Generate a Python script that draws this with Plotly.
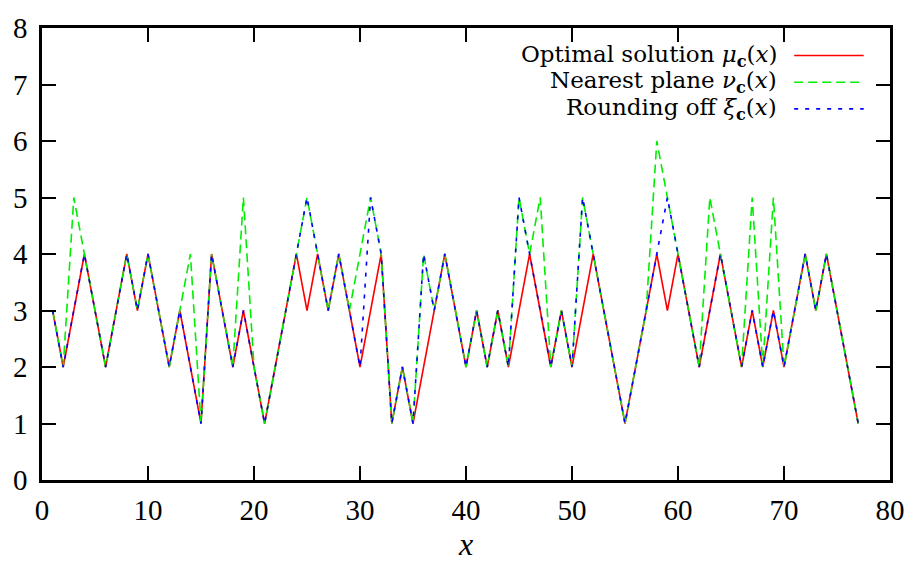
import plotly.graph_objects as go

x_vals = list(range(1, 78))

optimal = [3, 2, 3, 4, 3, 2, 3, 4, 3, 4, 3, 2, 3, 2, 1, 4, 3, 2, 3, 2,
           1, 2, 3, 4, 3, 4, 3, 4, 3, 2, 3, 4, 1, 2, 1, 2, 3, 4, 3, 2,
           3, 2, 3, 2, 3, 4, 3, 2, 3, 2, 3, 4, 3, 2, 1, 2, 3, 4, 3, 4,
           3, 2, 3, 4, 3, 2, 3, 2, 3, 2, 3, 4, 3, 4, 3, 2, 1]

nearest = [3, 2, 5, 4, 3, 2, 3, 4, 3, 4, 3, 2, 3, 4, 1, 4, 3, 2, 5, 2,
           1, 2, 3, 4, 5, 4, 3, 4, 3, 4, 5, 4, 1, 2, 1, 4, 3, 4, 3, 2,
           3, 2, 3, 2, 5, 4, 5, 2, 3, 2, 5, 4, 3, 2, 1, 2, 3, 6, 5, 4,
           3, 2, 5, 4, 3, 2, 5, 2, 5, 2, 3, 4, 3, 4, 3, 2, 1]

rounding = [3, 2, 3, 4, 3, 2, 3, 4, 3, 4, 3, 2, 3, 2, 1, 4, 3, 2, 3, 2,
            1, 2, 3, 4, 5, 4, 3, 4, 3, 2, 5, 4, 1, 2, 1, 4, 3, 4, 3, 2,
            3, 2, 3, 2, 5, 4, 3, 2, 3, 2, 5, 4, 3, 2, 1, 2, 3, 4, 5, 4,
            3, 2, 3, 4, 3, 2, 3, 2, 3, 2, 3, 4, 3, 4, 3, 2, 1]

x_ticks = [0, 10, 20, 30, 40, 50, 60, 70, 80]
y_ticks = [0, 1, 2, 3, 4, 5, 6, 7, 8]

names = [
    "Optimal solution <i>μ</i><sub><b>c</b></sub>(<i>x</i>)",
    "Nearest plane <i>ν</i><sub><b>c</b></sub>(<i>x</i>)",
    "Rounding off <i>ξ</i><sub><b>c</b></sub>(<i>x</i>)",
]
colors = ["#ff0000", "#00ee00", "#0000ff"]
dashes = ["solid", "9px,5px", "4px,7px"]
series = [optimal, nearest, rounding]

FONT = "Liberation Serif"
LEG_FONT = "DejaVu Serif"

fig = go.Figure()
for s, nm, c, d in zip(series, names, colors, dashes):
    fig.add_trace(go.Scatter(x=x_vals, y=s, mode="lines", name=nm,
                             line=dict(color=c, width=1.6, dash=d),
                             showlegend=False))

# manual gnuplot-style legend (text left, sample right)
rows_y = [0.939, 0.880, 0.821]
for nm, c, d, yy in zip(names, colors, dashes, rows_y):
    fig.add_annotation(x=0.8696, y=yy, xref="paper", yref="paper",
                       text=nm, showarrow=False, xanchor="right",
                       yanchor="middle",
                       font=dict(family=LEG_FONT, size=23, color="black"))
    fig.add_shape(type="line", xref="paper", yref="paper",
                  x0=0.887, x1=0.969, y0=yy, y1=yy,
                  line=dict(color=c, width=1.6, dash=d))

axis_common = dict(
    showline=True, linecolor="black", linewidth=2.5, mirror="ticks",
    ticks="inside", ticklen=14, tickwidth=2, tickcolor="black",
    showgrid=False, zeroline=False,
    tickfont=dict(family=FONT, size=29, color="black"),
)

fig.update_xaxes(range=[0, 80], tickvals=x_ticks,
                 ticktext=[str(t) for t in x_ticks],
                 title=dict(text="<i>x</i>",
                            font=dict(family=FONT, size=32, color="black"),
                            standoff=4),
                 ticklabelstandoff=2,
                 **axis_common)
fig.update_yaxes(range=[0, 8], tickvals=y_ticks,
                 ticktext=[str(t) for t in y_ticks],
                 ticklabelstandoff=6, **axis_common)

fig.update_layout(
    width=917, height=564,
    margin=dict(l=42, r=24, t=16, b=80),
    plot_bgcolor="white", paper_bgcolor="white",
    font=dict(family=FONT, color="black"),
)

fig.write_html("out.html")
